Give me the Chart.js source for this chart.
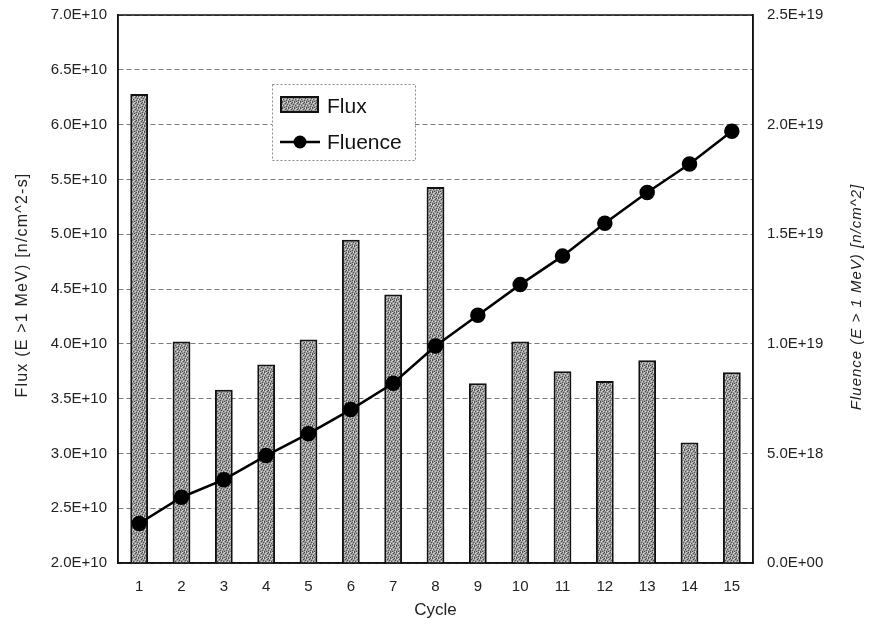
<!DOCTYPE html>
<html>
<head>
<meta charset="utf-8">
<script src="https://cdn.jsdelivr.net/npm/chart.js@4.4.1/dist/chart.umd.min.js"></script>
<style>
  html, body { margin: 0; padding: 0; background: #fff; }
  #wrap { width: 872px; height: 626px; position: relative; }
</style>
</head>
<body>
<div id="wrap"><canvas id="myChart"></canvas></div>
<script>
// values
const cycles = ['1', '2', '3', '4', '5', '6', '7', '8', '9', '10', '11', '12', '13', '14', '15'];
const fluxValues = [6.28e10, 4.02e10, 3.58e10, 3.81e10, 4.04e10, 4.95e10, 4.45e10, 5.43e10,
                    3.64e10, 4.02e10, 3.75e10, 3.66e10, 3.85e10, 3.10e10, 3.74e10];
const fluenceValues = [1.8e18, 3.0e18, 3.8e18, 4.9e18, 5.9e18, 7.0e18, 8.2e18, 9.9e18,
                       1.13e19, 1.27e19, 1.40e19, 1.55e19, 1.69e19, 1.82e19, 1.97e19];
const fluxTicks = [2.0e10, 2.5e10, 3.0e10, 3.5e10, 4.0e10, 4.5e10, 5.0e10, 5.5e10, 6.0e10, 6.5e10, 7.0e10];
const fluenceTicks = [0, 5e18, 1.0e19, 1.5e19, 2.0e19, 2.5e19];

const FONT = "'Liberation Sans', Arial, sans-serif";

// Excel style label: 2.5E+19, 0.0E+00
function sci(v) {
    if (Math.abs(v) < 1) return '0.0E+00';
    let exp = Math.floor(Math.log10(v) + 1e-9);
    const mant = v / Math.pow(10, exp);
    return mant.toFixed(1) + 'E+' + String(exp).padStart(2, '0');
}

// grey speckled fill like the scanned bars
function barTexture() {
    const p = document.createElement('canvas');
    p.width = 6; p.height = 6;
    const g = p.getContext('2d');
    g.fillStyle = '#9c9c9c';
    g.fillRect(0, 0, 6, 6);
    g.fillStyle = '#4e4e4e';
    [[0, 0], [3, 1], [1, 3], [4, 4], [5, 2], [2, 5], [4, 0], [0, 5]].forEach(([x, y]) => g.fillRect(x, y, 1, 1));
    g.fillStyle = '#d8d8d8';
    [[2, 0], [5, 5], [0, 3], [3, 3], [1, 1], [5, 0]].forEach(([x, y]) => g.fillRect(x, y, 1, 1));
    return g.createPattern(p, 'repeat');
}
const texture = barTexture();

function rotatedText(ctx, text, x, y, font, spacing) {
    ctx.save();
    ctx.translate(x, y);
    ctx.rotate(-Math.PI / 2);
    ctx.font = font;
    ctx.letterSpacing = spacing;
    ctx.fillStyle = '#222';
    ctx.textAlign = 'center';
    ctx.textBaseline = 'middle';
    ctx.fillText(text, 0, 0);
    ctx.restore();
}

// frame, axis titles and the boxed legend
const decorations = {
    id: 'decorations',
    afterDraw(chart) {
        const ctx = chart.ctx;
        const a = chart.chartArea;
        const [barSet, lineSet] = chart.data.datasets;
        const mid = (a.top + a.bottom) / 2;

        ctx.save();
        ctx.strokeStyle = '#111';
        ctx.lineWidth = 1.5;
        ctx.strokeRect(a.left, a.top, a.right - a.left, a.bottom - a.top);
        ctx.restore();

        rotatedText(ctx, 'Flux (E >1 MeV) [n/cm^2-s]', 23, mid - 4, '16px ' + FONT, '1.2px');
        rotatedText(ctx, 'Fluence (E > 1 MeV) [n/cm^2]', 857, mid + 8, 'italic 15px ' + FONT, '1px');

        // legend box
        ctx.save();
        const lx = 272, ly = 84, lw = 143, lh = 76;
        ctx.fillStyle = '#fff';
        ctx.fillRect(lx, ly, lw, lh);
        ctx.setLineDash([2, 2]);
        ctx.strokeStyle = '#888';
        ctx.lineWidth = 1;
        ctx.strokeRect(lx + 0.5, ly + 0.5, lw, lh);
        ctx.setLineDash([]);

        ctx.fillStyle = texture;
        ctx.fillRect(281, 97, 37, 15);
        ctx.strokeStyle = '#111';
        ctx.lineWidth = 2;
        ctx.strokeRect(281, 97, 37, 15);

        ctx.strokeStyle = '#000';
        ctx.lineWidth = 2.5;
        ctx.beginPath();
        ctx.moveTo(280, 142);
        ctx.lineTo(320, 142);
        ctx.stroke();
        ctx.fillStyle = '#000';
        ctx.beginPath();
        ctx.arc(300, 142, 6.5, 0, Math.PI * 2);
        ctx.fill();

        ctx.font = '21px ' + FONT;
        ctx.fillStyle = '#111';
        ctx.textBaseline = 'middle';
        ctx.fillText(barSet.label, 327, 107);
        ctx.fillText(lineSet.label, 327, 143);
        ctx.restore();
    }
};

function fixWidth(w) {
    return function (scale) {
        scale.width = w;
        scale.paddingTop = 0;
        scale.paddingBottom = 0;
    };
}

const ctx = document.getElementById('myChart').getContext('2d');

window.myChart = new Chart(ctx, {
    data: {
        labels: cycles,
        datasets: [
            {
                type: 'bar',
                label: 'Flux',
                data: fluxValues,
                yAxisID: 'y',
                backgroundColor: texture,
                borderColor: '#121212',
                borderWidth: 2,
                borderSkipped: false,
                barPercentage: 0.42,
                categoryPercentage: 1.0,
                order: 2
            },
            {
                type: 'line',
                label: 'Fluence',
                data: fluenceValues,
                yAxisID: 'y1',
                borderColor: '#000',
                backgroundColor: '#000',
                borderWidth: 2.5,
                pointRadius: 6.5,
                pointHoverRadius: 6.5,
                pointBackgroundColor: '#000',
                tension: 0,
                order: 1
            }
        ]
    },
    options: {
        responsive: true,
        maintainAspectRatio: false,
        animation: false,
        layout: { padding: { top: 15, left: 0, right: 0, bottom: 0 } },
        plugins: {
            legend: { display: false },
            tooltip: { enabled: false }
        },
        scales: {
            x: {
                grid: { display: false, drawTicks: false },
                border: { color: '#111', width: 1.5 },
                ticks: { color: '#222', font: { family: FONT, size: 15 }, padding: 15, maxRotation: 0 },
                title: {
                    display: true,
                    text: 'Cycle',
                    color: '#222',
                    font: { family: FONT, size: 17 },
                    padding: { top: 6, bottom: 5 }
                },
                afterFit(scale) { scale.height = 63; }
            },
            y: {
                position: 'left',
                min: 2.0e10,
                max: 7.0e10,
                afterBuildTicks(scale) { scale.ticks = fluxTicks.map(v => ({ value: v })); },
                grid: { color: '#7a7a7a', lineWidth: 1, drawTicks: false },
                border: { color: '#111', width: 1.5, dash: [5, 3] },
                ticks: {
                    color: '#222',
                    font: { family: FONT, size: 15 },
                    padding: 11,
                    callback: v => sci(v)
                },
                title: { display: false, text: 'Flux (E >1 MeV) [n/cm^2-s]' },
                afterFit: fixWidth(118)
            },
            y1: {
                position: 'right',
                min: 0,
                max: 2.5e19,
                afterBuildTicks(scale) { scale.ticks = fluenceTicks.map(v => ({ value: v })); },
                grid: { display: false, drawTicks: false },
                border: { color: '#111', width: 1.5 },
                ticks: {
                    color: '#222',
                    font: { family: FONT, size: 15 },
                    padding: 14,
                    callback: v => sci(v)
                },
                title: { display: false, text: 'Fluence (E > 1 MeV) [n/cm^2]' },
                afterFit: fixWidth(119)
            }
        }
    },
    plugins: [decorations]
});
</script>
</body>
</html>
